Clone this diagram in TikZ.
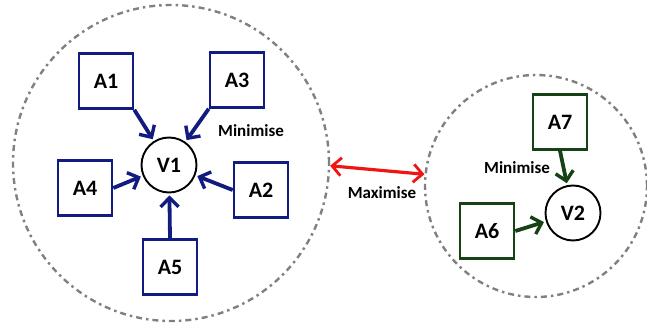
\documentclass[tikz,border=0pt]{standalone}
\usepackage{fontspec}
\setmainfont{Carlito}
\usetikzlibrary{arrows.meta}
\definecolor{navyblue}{RGB}{18,28,128}
\definecolor{darkgreen}{RGB}{22,66,22}
\definecolor{maxred}{RGB}{240,20,20}
\definecolor{groupgray}{RGB}{128,128,128}
\begin{document}
\begin{tikzpicture}[x=1pt,y=-1pt,
  group/.style={circle,draw=groupgray,line width=2.4pt,
    dash pattern=on 6pt off 4pt on 2.5pt off 4pt,inner sep=0pt},
  agent/.style={rectangle,draw=#1,line width=2.6pt,fill=white,
    minimum width=54pt,minimum height=55pt,inner sep=0pt,
    font=\fontsize{22}{22}\selectfont\bfseries},
  var/.style={circle,draw=black,line width=1.9pt,fill=white,
    minimum size=55pt,inner sep=0pt,
    font=\fontsize{22}{22}\selectfont\bfseries},
  link/.style={draw=#1,line width=3.8pt,
    -{Straight Barb[length=9pt,width=18pt,line width=3.4pt]},shorten >=2pt},
  lbl/.style={font=\fontsize{17}{17}\selectfont\bfseries,inner sep=0pt}]
\useasboundingbox (0,0) rectangle (647,326);

% groups
\node[group,minimum size=316pt] (C1) at (171,163) {};
\node[group,minimum size=222pt] (C2) at (536,186) {};

% left group
\node[var] (V1) at (169,165) {V1};
\node[agent=navyblue] (A1) at (106,81) {A1};
\node[agent=navyblue] (A3) at (237,80) {A3};
\node[agent=navyblue] (A4) at (85,188) {A4};
\node[agent=navyblue] (A2) at (261,190) {A2};
\node[agent=navyblue] (A5) at (170,267) {A5};
\node[lbl] (L1) at (251,131) {Minimise};

\draw[link=navyblue] (A1.south east) -- (V1);
\draw[link=navyblue] (A3.south west) -- (V1);
\draw[link=navyblue] (A4.east) -- (V1);
\draw[link=navyblue] (A2.west) -- (V1);
\draw[link=navyblue] (A5.north) -- (V1);

% right group
\node[var] (V2) at (573,213) {V2};
\node[agent=darkgreen] (A7) at (560,122) {A7};
\node[agent=darkgreen] (A6) at (487,231) {A6};
\node[lbl] (L2) at (517,168) {Minimise};

\draw[link=darkgreen] (A7.south) -- (V2);
\draw[link=darkgreen] (A6.east) -- (V2);

% link between groups
\draw[draw=maxred,line width=3.2pt,
  {Straight Barb[length=9pt,width=18pt,line width=2.8pt]}-{Straight Barb[length=9pt,width=18pt,line width=2.8pt]}]
  (C1.-1) -- (C2.174);
\node[lbl] (L3) at (382,193) {Maximise};
\end{tikzpicture}
\end{document}
